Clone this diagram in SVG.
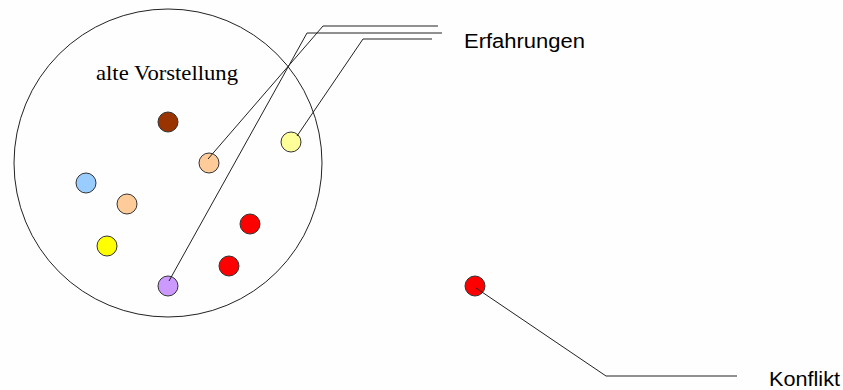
<svg xmlns="http://www.w3.org/2000/svg" width="843" height="390" viewBox="0 0 843 390">
<style>
.bg{fill:#fffefe}
.big{fill:none;stroke:#222;stroke-width:1}
.dot{stroke:#333;stroke-width:1}
.con{fill:none;stroke:#222;stroke-width:1}
.sans{font-family:"Liberation Sans",Arial,sans-serif;font-size:20px;fill:#000}
.serif{font-family:"Liberation Serif","Times New Roman",serif;font-size:21px;fill:#000}
</style>
<rect class="bg" x="0" y="0" width="843" height="390"/>
<g id="alte-vorstellung">
<circle class="big" cx="168" cy="163" r="154"/>
<text class="serif" x="96" y="80" textLength="142" lengthAdjust="spacingAndGlyphs">alte Vorstellung</text>
</g>
<g id="dot-brown"><circle class="dot" cx="168" cy="122" r="10" fill="#993300"/></g>
<g id="dot-peach1"><circle class="dot" cx="209" cy="163" r="10" fill="#FFCC99"/></g>
<g id="dot-paleyellow"><circle class="dot" cx="291" cy="142" r="10" fill="#FFFF99"/></g>
<g id="dot-blue"><circle class="dot" cx="86" cy="183" r="10" fill="#99CCFF"/></g>
<g id="dot-peach2"><circle class="dot" cx="127" cy="204" r="10" fill="#FFCC99"/></g>
<g id="dot-yellow"><circle class="dot" cx="107" cy="246" r="10" fill="#FFFF00"/></g>
<g id="dot-purple"><circle class="dot" cx="168" cy="286" r="10" fill="#CC99FF"/></g>
<g id="dot-red1"><circle class="dot" cx="250" cy="224" r="10" fill="#FF0000"/></g>
<g id="dot-red2"><circle class="dot" cx="229" cy="266" r="10" fill="#FF0000"/></g>
<g id="dot-konflikt"><circle class="dot" cx="475" cy="286" r="10" fill="#FF0000"/></g>
<g id="label-erfahrungen"><text class="sans" x="464" y="48" textLength="121" lengthAdjust="spacingAndGlyphs">Erfahrungen</text></g>
<g id="label-konflikt"><text class="sans" x="769" y="386" textLength="71" lengthAdjust="spacingAndGlyphs">Konflikt</text></g>
<g id="connectors">
<polyline class="con" points="208,159 323,26 438,26"/>
<polyline class="con" points="169,281 307,33 442,33"/>
<polyline class="con" points="297,136 363,39 432,39"/>
<polyline class="con" points="476,288 606,376 737,376"/>
</g>
</svg>
